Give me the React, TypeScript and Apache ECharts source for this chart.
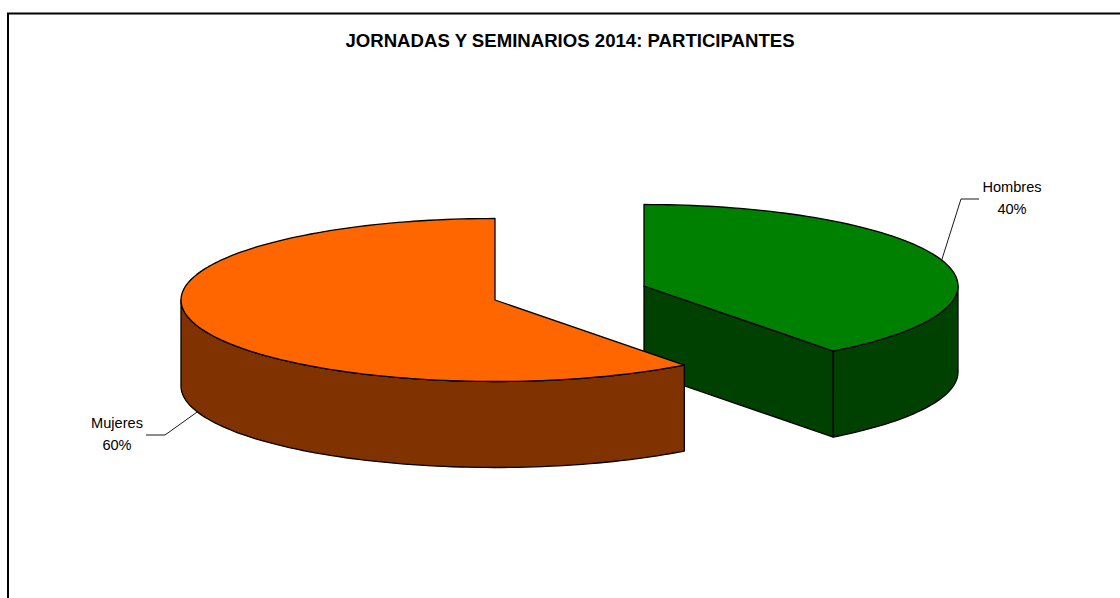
import React, { useEffect, useRef } from "react";
import * as echarts from "echarts";

const TITLE = "JORNADAS Y SEMINARIOS 2014: PARTICIPANTES";
const categories = ["Hombres", "Mujeres"];
const shares = [39.7, 60.3];
const topColors = ["#008000", "#FF6600"];
const wallColors = ["#004000", "#803300"];
const centers = [[644, 286], [495, 300]];
const RX = 314;
const RY = 81.5;
const DEPTH = 86;
const labelAnchors = [
  { elbow: [961, 199], end: [979, 199], text: [1012, 198] },
  { elbow: [165, 435], end: [146, 435], text: [117, 434] },
];

const rad = (d: number) => (d * Math.PI) / 180;

function arcPoints(cx: number, cy: number, from: number, to: number) {
  const n = Math.max(2, Math.ceil(Math.abs(to - from) / 1.5));
  const pts: number[][] = [];
  for (let i = 0; i <= n; i++) {
    const t = rad(from + ((to - from) * i) / n);
    pts.push([cx + RX * Math.cos(t), cy + RY * Math.sin(t)]);
  }
  return pts;
}

const stroke = { stroke: "#000", lineWidth: 1.3, lineJoin: "round" as const };

function renderSlice(params: any, api: any) {
  const i = params.dataIndex;
  const total = shares.reduce((a, b) => a + b, 0);
  const sweep = (api.value(0) / total) * 360;
  const [cx, cy] = centers[i];
  const clockwise = i === 0;
  // both slices start at the 12 o'clock radius; Hombres runs clockwise, Mujeres counter-clockwise
  const start = -90;
  const end = clockwise ? start + sweep : start - sweep;
  const rim = arcPoints(cx, cy, start, end);
  const children: any[] = [];
  const down = (p: number[]) => [p[0], p[1] + DEPTH];

  // visible outer wall: the part of the rim below the ellipse's horizontal axis
  const wallTop = arcPoints(cx, cy, clockwise ? 0 : -180, end);
  const outer = [...wallTop, ...wallTop.slice().reverse().map(down)];

  if (clockwise) {
    // cut face, turned towards the viewer
    const tip = rim[rim.length - 1];
    children.push({
      type: "polygon",
      shape: { points: [[cx, cy], tip, down(tip), [cx, cy + DEPTH]] },
      style: { fill: wallColors[i], ...stroke },
    });
  }
  children.push({ type: "polygon", shape: { points: outer }, style: { fill: wallColors[i], ...stroke } });
  children.push({
    type: "polygon",
    shape: { points: [[cx, cy], ...rim] },
    style: { fill: topColors[i], ...stroke },
  });

  // leader line from the middle of the slice's rim
  const mid = rad(clockwise ? start + sweep / 2 : start - sweep / 2);
  const midPoint = [cx + RX * Math.cos(mid), cy + RY * Math.sin(mid)];
  const from = Math.sin(mid) > 0 ? down(midPoint) : midPoint;
  const a = labelAnchors[i];
  children.push({
    type: "polyline",
    shape: { points: [from, a.elbow, a.end] },
    style: { fill: "none", stroke: "#1a1a1a", lineWidth: 1 },
  });
  children.push({
    type: "text",
    x: a.text[0],
    y: a.text[1],
    style: {
      text: `${categories[i]}\n${Math.round((api.value(0) / total) * 100)}%`,
      fill: "#000",
      font: '14.6px "Liberation Sans", Arial, sans-serif',
      align: "center",
      verticalAlign: "middle",
      lineHeight: 22,
    },
  });
  return { type: "group", children };
}

export default function App() {
  const ref = useRef<HTMLDivElement>(null);
  useEffect(() => {
    document.body.style.margin = "0";
    const chart = echarts.init(ref.current!, undefined, { renderer: "svg" });
    chart.setOption({
      animation: false,
      backgroundColor: "#fff",
      title: {
        text: TITLE,
        left: 565,
        top: 26,
        textAlign: "center",
        textStyle: {
          fontFamily: '"Liberation Sans", Arial, sans-serif',
          fontWeight: "bold",
          fontSize: 18.6,
          color: "#000",
        },
      },
      graphic: [
        {
          type: "polyline",
          shape: { points: [[8, 598], [8, 13.5], [1120, 13.5]] },
          style: { fill: "none", stroke: "#000", lineWidth: 2 },
        },
      ],
      series: [
        {
          type: "custom",
          coordinateSystem: "none",
          renderItem: renderSlice,
          clip: false,
          data: shares.map((v, i) => ({ name: categories[i], value: [v] })),
        },
      ],
    });
    return () => chart.dispose();
  }, []);
  return <div ref={ref} style={{ width: 1120, height: 598 }} />;
}
